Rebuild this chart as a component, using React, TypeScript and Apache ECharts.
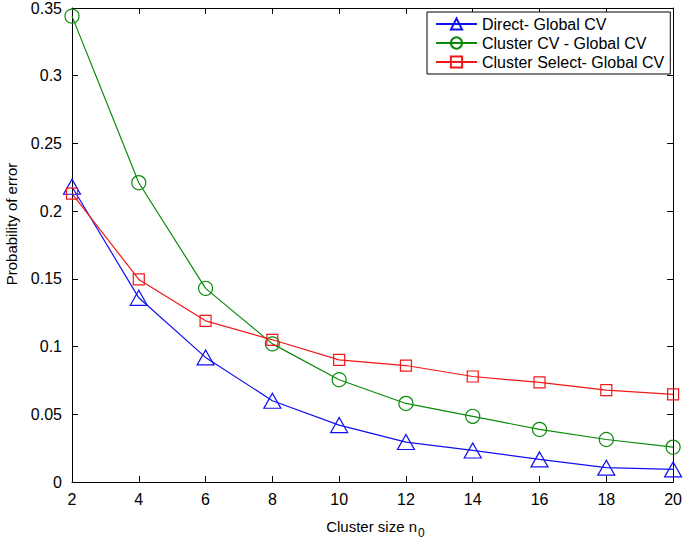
import React, { useEffect, useRef } from "react";
import * as echarts from "echarts";

const clusterSizes = [2, 4, 6, 8, 10, 12, 14, 16, 18, 20];
const directGlobal = [0.218, 0.136, 0.092, 0.060, 0.042, 0.0295, 0.0233, 0.0167, 0.0106, 0.0093];
const clusterCvGlobal = [0.344, 0.221, 0.143, 0.102, 0.0755, 0.058, 0.0485, 0.0388, 0.0314, 0.0257];
const clusterSelectGlobal = [0.213, 0.1496, 0.119, 0.105, 0.0902, 0.086, 0.0779, 0.0735, 0.0679, 0.0647];

const seriesNames = ["Direct- Global CV", "Cluster CV - Global CV", "Cluster Select- Global CV"];
const xTitle = "Cluster size n";
const xTitleSub = "0";
const yTitle = "Probability of error";

const FONT = "'Liberation Sans', Arial, Helvetica, sans-serif";

export default function App() {
  const ref = useRef<HTMLDivElement>(null);
  useEffect(() => {
    if (!ref.current) return;
    const chart = echarts.init(ref.current, undefined, { renderer: "svg" });
    const toPairs = (ys: number[]) => clusterSizes.map((x, i) => [x, ys[i]]);
    const mk = (name: string, ys: number[], color: string, symbol: string, size: any) => ({
      type: "line",
      name,
      data: toPairs(ys),
      symbol,
      symbolSize: size,
      showAllSymbol: true,
      lineStyle: { color, width: 1.2 },
      itemStyle: { color: "rgba(255,255,255,0)", borderColor: color, borderWidth: 1.2 },
      emphasis: { disabled: true },
      silent: true,
      z: 3,
    });
    const axisCommon = {
      axisLine: { show: true, onZero: false, lineStyle: { color: "#000", width: 1 } },
      axisTick: { show: true, inside: true, length: 6, lineStyle: { color: "#000" } },
      splitLine: { show: false },
    };
    chart.setOption({
      animation: false,
      backgroundColor: "#fff",
      textStyle: { fontFamily: FONT },
      grid: { left: 72, right: 9, top: 6, bottom: 60, containLabel: false },
      xAxis: [
        {
          type: "value", min: 2, max: 20, interval: 2, position: "bottom",
          ...axisCommon,
          axisLabel: { fontSize: 16, color: "#000", margin: 9, fontFamily: FONT },
        },
        {
          type: "value", min: 2, max: 20, interval: 2, position: "top",
          ...axisCommon,
          axisLabel: { show: false },
        },
      ],
      yAxis: [
        {
          type: "value", min: 0, max: 0.35, interval: 0.05, position: "left",
          ...axisCommon,
          axisLabel: { fontSize: 16, color: "#000", margin: 10, fontFamily: FONT },
        },
        {
          type: "value", min: 0, max: 0.35, interval: 0.05, position: "right",
          ...axisCommon,
          axisLabel: { show: false },
        },
      ],
      legend: {
        left: 427,
        top: 12,
        orient: "vertical",
        align: "left",
        itemWidth: 41,
        itemHeight: 14,
        itemGap: 3,
        padding: [4, 6, 4, 8],
        borderColor: "#000",
        borderWidth: 1,
        borderRadius: 0,
        backgroundColor: "#fff",
        selectedMode: false,
        textStyle: { fontSize: 16, color: "#000", fontFamily: FONT, lineHeight: 16 },
        data: seriesNames,
      },
      graphic: [
        {
          type: "text",
          x: 11,
          y: 224,
          rotation: Math.PI / 2,
          style: {
            text: yTitle,
            fontSize: 15,
            fontFamily: FONT,
            fill: "#000",
            align: "center",
            verticalAlign: "middle",
          },
        },
        {
          type: "text",
          x: 417,
          y: 526,
          style: {
            text: xTitle,
            fontSize: 15,
            fontFamily: FONT,
            fill: "#000",
            align: "right",
            verticalAlign: "middle",
          },
        },
        {
          type: "text",
          x: 418,
          y: 533,
          style: {
            text: xTitleSub,
            fontSize: 12,
            fontFamily: FONT,
            fill: "#000",
            align: "left",
            verticalAlign: "middle",
          },
        },
      ],
      series: [
        mk(seriesNames[0], directGlobal, "#1010f0", "triangle", [17, 15]),
        mk(seriesNames[1], clusterCvGlobal, "#0a8a0a", "circle", 14),
        mk(seriesNames[2], clusterSelectGlobal, "#f01818", "rect", 11),
      ],
    });
    return () => chart.dispose();
  }, []);
  return (
    <div
      ref={ref}
      style={{ position: "fixed", left: 0, top: 0, width: 685, height: 542, background: "#fff" }}
    />
  );
}
